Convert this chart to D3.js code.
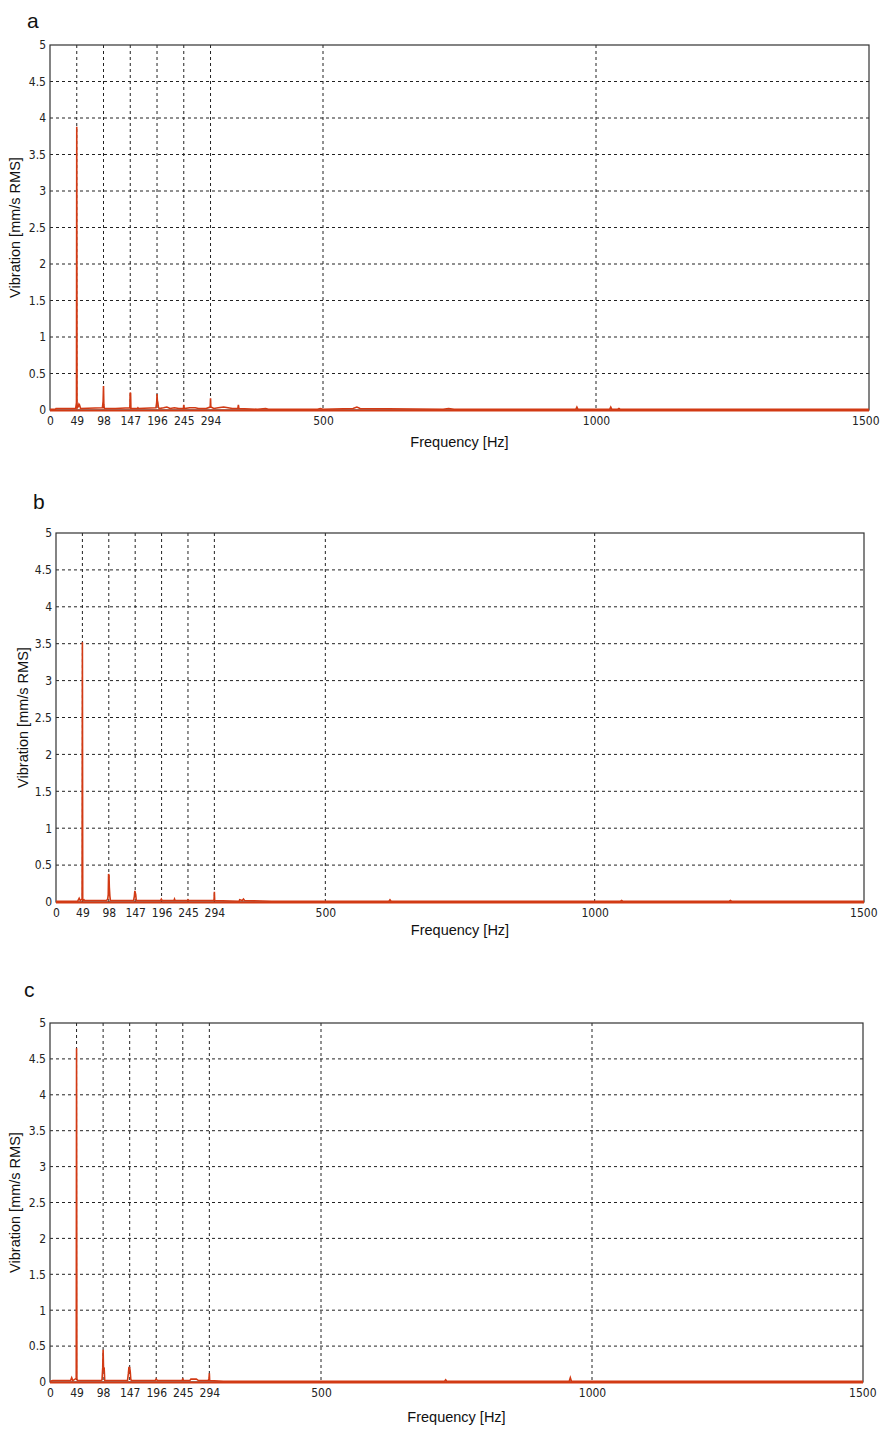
<!DOCTYPE html>
<html>
<head>
<meta charset="utf-8">
<script src="https://cdn.jsdelivr.net/npm/d3@7"></script>
<style>
  body { margin: 0; background: #fff; }
  svg { display: block; }
  .tick-lbl { font-family: "DejaVu Sans Condensed", "Liberation Sans Narrow", Arial, sans-serif; font-stretch: condensed; font-size: 12px; fill: #222; }
  .ax-lbl { font-family: "Liberation Sans", Arial, sans-serif; font-size: 14.5px; fill: #111; }
  .letter { font-family: "Liberation Sans", Arial, sans-serif; font-size: 21px; fill: #111; }
</style>
</head>
<body>
<svg id="chart" width="880" height="1430"></svg>
<script>
// tick values shared by all three spectra
const xTicks = [0, 49, 98, 147, 196, 245, 294, 500, 1000, 1500];
const xGrid = [49, 98, 147, 196, 245, 294, 500, 1000];
const yTicks = [0, 0.5, 1, 1.5, 2, 2.5, 3, 3.5, 4, 4.5, 5];

// spectrum a : [frequency Hz, mm/s RMS]
const specA = [
  [0, 0.01], [10, 0.01], [11, 0.02], [47, 0.02], [48.5, 0.1], [49, 3.88], [49.5, 0.1], [50, 0.03],
  [52, 0.05], [53, 0.08], [54, 0.07], [56, 0.02], [96, 0.03], [97.3, 0.12], [98, 0.33], [98.6, 0.08],
  [99.5, 0.02], [120, 0.02], [146.3, 0.03], [146.7, 0.2], [147, 0.24], [147.6, 0.23], [148.2, 0.02],
  [160, 0.02], [161, 0.03], [162, 0.02], [194, 0.03], [195.4, 0.1], [196, 0.22], [196.6, 0.13],
  [197.5, 0.1], [198.5, 0.04], [200, 0.02], [208, 0.03], [214, 0.04], [220, 0.02], [228, 0.03],
  [236, 0.02], [244.4, 0.02], [245, 0.07], [245.6, 0.02], [256, 0.03], [266, 0.03], [272, 0.02],
  [286, 0.02], [293.4, 0.04], [294, 0.16], [294.6, 0.04], [300, 0.02], [308, 0.03], [318, 0.04],
  [326, 0.03], [334, 0.02], [344, 0.02], [345, 0.07], [346, 0.02], [380, 0.01], [395, 0.02],
  [400, 0.01], [490, 0.01], [495, 0.02], [500, 0.01], [555, 0.02], [562, 0.04], [568, 0.02],
  [720, 0.01], [730, 0.02], [740, 0.01], [963, 0.01], [965, 0.04], [967, 0.01], [1025, 0.01],
  [1027, 0.04], [1029, 0.01], [1040, 0.01], [1042, 0.02], [1044, 0.01], [1500, 0.01]
];

// spectrum b
const specB = [
  [0, 0.01], [40, 0.01], [43, 0.05], [45, 0.02], [48.4, 0.04], [49, 3.52], [49.6, 0.04], [50, 0.02],
  [52, 0.03], [53, 0.02], [94, 0.02], [96, 0.04], [97, 0.1], [97.6, 0.38], [98.4, 0.36], [99, 0.2],
  [100, 0.08], [101, 0.02], [144, 0.02], [145.5, 0.08], [146.4, 0.15], [147.4, 0.12], [148, 0.1],
  [149, 0.02], [194, 0.02], [195.5, 0.04], [197, 0.02], [219, 0.02], [220, 0.04], [221, 0.02],
  [244, 0.02], [245, 0.03], [246, 0.02], [293.4, 0.02], [294, 0.14], [294.6, 0.02], [340, 0.01],
  [341, 0.03], [346, 0.02], [348, 0.04], [350, 0.02], [400, 0.01], [618, 0.01], [620, 0.03],
  [622, 0.01], [1048, 0.01], [1050, 0.02], [1052, 0.01], [1250, 0.01], [1252, 0.02], [1254, 0.01],
  [1500, 0.01]
];

// spectrum c
const specC = [
  [0, 0.01], [5, 0.02], [38, 0.02], [40, 0.06], [42, 0.02], [48.4, 0.05], [49, 4.65], [49.6, 0.05],
  [50.5, 0.02], [94, 0.02], [96, 0.03], [97.3, 0.2], [98, 0.45], [98.8, 0.17], [100, 0.18],
  [101, 0.02], [143, 0.02], [144.6, 0.12], [145.6, 0.2], [147, 0.2], [148, 0.15], [149, 0.04],
  [150, 0.02], [194, 0.02], [196, 0.04], [198, 0.02], [244, 0.02], [245, 0.05], [246, 0.02],
  [258, 0.02], [260, 0.04], [270, 0.04], [274, 0.02], [292, 0.02], [293.4, 0.05], [294, 0.12],
  [294.6, 0.02], [320, 0.01], [728, 0.01], [730, 0.03], [732, 0.01], [958, 0.01], [960, 0.06],
  [962, 0.01], [1500, 0.01]
];

const panels = [
  { letter: "a", data: specA, x0: 50, x1: 869, top: 45, bottom: 410, lx: 27, ly: 28, ylx: 20, xly: 447 },
  { letter: "b", data: specB, x0: 56, x1: 864, top: 533, bottom: 902, lx: 33, ly: 509, ylx: 28, xly: 935 },
  { letter: "c", data: specC, x0: 50, x1: 863, top: 1023, bottom: 1382, lx: 24, ly: 997, ylx: 20, xly: 1422 }
];

const svg = d3.select("#chart");

panels.forEach(p => {
  const x = d3.scaleLinear().domain([0, 1500]).range([p.x0, p.x1]);
  const y = d3.scaleLinear().domain([0, 5]).range([p.bottom, p.top]);
  const g = svg.append("g");

  // grid
  g.append("g").selectAll("line").data(xGrid).enter().append("line")
    .attr("x1", d => x(d)).attr("x2", d => x(d))
    .attr("y1", p.top).attr("y2", p.bottom)
    .attr("stroke", "#222").attr("stroke-width", 1).attr("stroke-dasharray", "3,3");
  g.append("g").selectAll("line").data(yTicks.slice(1, -1)).enter().append("line")
    .attr("x1", p.x0).attr("x2", p.x1)
    .attr("y1", d => y(d)).attr("y2", d => y(d))
    .attr("stroke", "#222").attr("stroke-width", 1).attr("stroke-dasharray", "3,3");

  // box
  g.append("rect")
    .attr("x", p.x0).attr("y", p.top)
    .attr("width", p.x1 - p.x0).attr("height", p.bottom - p.top)
    .attr("fill", "none").attr("stroke", "#333").attr("stroke-width", 1.2);

  // axes
  const xAxis = g.append("g").attr("transform", `translate(0,${p.bottom})`)
    .call(d3.axisBottom(x).tickValues(xTicks).tickSize(0).tickPadding(6).tickFormat(d3.format("d")));
  xAxis.select(".domain").remove();
  xAxis.selectAll("text").attr("class", "tick-lbl").attr("fill", null);
  // keep the last label inside the page
  xAxis.selectAll("text").filter(d => d === 1500)
    .attr("text-anchor", "end").attr("dx", Math.min(13, 879 - p.x1));

  const yAxis = g.append("g").attr("transform", `translate(${p.x0},0)`)
    .call(d3.axisLeft(y).tickValues(yTicks).tickSize(0).tickPadding(4).tickFormat(d => String(d)));
  yAxis.select(".domain").remove();
  yAxis.selectAll("text").attr("class", "tick-lbl").attr("fill", null);

  // spectrum
  const line = d3.line().x(d => x(d[0])).y(d => y(d[1]));
  g.append("path").datum(p.data)
    .attr("d", line)
    .attr("fill", "none").attr("stroke", "#d23a14").attr("stroke-width", 1.6)
    .attr("stroke-linejoin", "miter");
  // bottom axis line drawn over the baseline
  g.append("line")
    .attr("x1", p.x0).attr("x2", p.x1).attr("y1", p.bottom + 0.5).attr("y2", p.bottom + 0.5)
    .attr("stroke", "#d23a14").attr("stroke-width", 2);

  // labels
  g.append("text").attr("class", "letter").attr("x", p.lx).attr("y", p.ly).text(p.letter);
  g.append("text").attr("class", "ax-lbl")
    .attr("text-anchor", "middle")
    .attr("x", (p.x0 + p.x1) / 2).attr("y", p.xly)
    .text("Frequency [Hz]");
  g.append("text").attr("class", "ax-lbl")
    .attr("text-anchor", "middle")
    .attr("transform", `translate(${p.ylx},${(p.top + p.bottom) / 2}) rotate(-90)`)
    .text("Vibration [mm/s RMS]");
});
</script>
</body>
</html>
